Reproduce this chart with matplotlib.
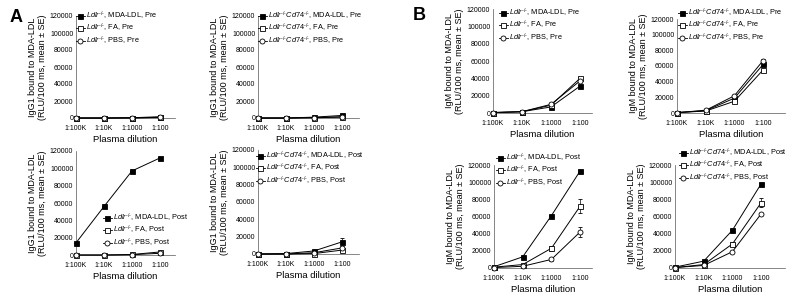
import matplotlib
matplotlib.use("Agg")
import matplotlib.pyplot as plt
from matplotlib.lines import Line2D
from matplotlib.transforms import ScaledTranslation

plt.rcParams['font.family'] = ['Liberation Sans', 'DejaVu Sans']
plt.rcParams['mathtext.fontset'] = 'custom'
plt.rcParams['mathtext.rm'] = 'Liberation Sans'
plt.rcParams['mathtext.it'] = 'Liberation Sans:italic'

dilutions = ['1:100K', '1:10K', '1:1000', '1:100']
yticks = [0, 20000, 40000, 60000, 80000, 100000, 120000]

# IgG1
igg1_ldlr_pre_mda = [0, 0, 300, 1500]
igg1_ldlr_pre_fa = [0, 0, 200, 800]
igg1_ldlr_pre_pbs = [0, 0, 100, 600]
igg1_cd74_pre_mda = [0, 0, 1000, 3000]
igg1_cd74_pre_fa = [0, 0, 500, 1500]
igg1_cd74_pre_pbs = [0, 0, 300, 1000]
igg1_ldlr_post_mda = [14000, 56000, 97000, 112000]
igg1_ldlr_post_fa = [0, 0, 600, 3500]
igg1_ldlr_post_pbs = [0, 0, 300, 2000]
igg1_cd74_post_mda = [0, 500, 3500, 14000]
igg1_cd74_post_fa = [0, 0, 500, 4500]
igg1_cd74_post_pbs = [0, 0, 1500, 7000]
# IgM
igm_ldlr_pre_mda = [500, 1500, 7000, 31000]
igm_ldlr_pre_fa = [500, 1500, 9000, 40000]
igm_ldlr_pre_pbs = [500, 1500, 10000, 37000]
igm_cd74_pre_mda = [500, 3000, 19000, 62000]
igm_cd74_pre_fa = [500, 2500, 15000, 55000]
igm_cd74_pre_pbs = [500, 3500, 22000, 67000]
igm_ldlr_post_mda = [1500, 13000, 61000, 113000]
igm_ldlr_post_fa = [1000, 4000, 23000, 72000]
igm_ldlr_post_pbs = [500, 2000, 10000, 42000]
igm_cd74_post_mda = [1000, 8000, 44000, 98000]
igm_cd74_post_fa = [500, 4000, 28000, 76000]
igm_cd74_post_pbs = [500, 3000, 19000, 63000]

# standard errors (only visible ones)
se_small = [300, 300, 500, 1500]
igg1_cd74_post_mda_se = [200, 300, 1500, 5000]
igm_ldlr_post_fa_se = [500, 1000, 3000, 8000]
igm_ldlr_post_pbs_se = [300, 500, 1500, 6000]
igm_cd74_post_fa_se = [300, 800, 2500, 5000]

W, H = 800, 299
fig = plt.figure(figsize=(W / 100, H / 100), dpi=100)


def add_panel(x0, y0, ytop, unit, xend, ylabel, series, geno, stage, leg_xy):
    ax = fig.add_axes([x0 / W, 1 - y0 / H, (xend - x0) / W, (y0 - ytop) / H])
    ax.set_xlim(0, (xend - x0) / unit)
    ax.set_ylim(0, 120000)
    styles = [('s', 'black'), ('s', 'white'), ('o', 'white')]
    names = ['MDA-LDL', 'FA', 'PBS']
    x = list(range(len(dilutions)))
    handles, labels = [], []
    for (vals, err), (m, fc), nm in zip(series, styles, names):
        ax.errorbar(x, vals, yerr=err, color='black', lw=0.7, elinewidth=0.5,
                    capsize=1.2, capthick=0.5, marker=m, ms=3.6, mfc=fc,
                    mec='black', mew=0.6, clip_on=False, zorder=3)
        handles.append(Line2D([], [], color='black', lw=0.6, marker=m, ms=3.6,
                              mfc=fc, mec='black', mew=0.6))
        labels.append(r'$\it{%s}$, %s, %s' % (geno, nm, stage))
    for s in ['top', 'right']:
        ax.spines[s].set_visible(False)
    for s in ['left', 'bottom']:
        ax.spines[s].set_linewidth(0.5)
        ax.spines[s].set_color('#555555')
    ax.set_xticks(x)
    ax.set_xticklabels(dilutions, fontsize=5)
    off = ScaledTranslation(3 / 100, 0, fig.dpi_scale_trans)
    for t in ax.get_xticklabels():
        t.set_transform(t.get_transform() + off)
    ax.set_yticks(yticks)
    ax.set_yticklabels([str(v) for v in yticks], fontsize=5)
    ax.tick_params(length=0, pad=2)
    ax.tick_params(axis='x', pad=5)
    ax.set_xlabel('Plasma dilution', fontsize=6.8, labelpad=2)
    ax.set_ylabel(ylabel + ' bound to MDA-LDL\n(RLU/100 ms, mean \u00b1 SE)',
                  fontsize=6.5, labelpad=2, linespacing=1.1)
    ax.legend(handles, labels, loc='upper left',
              bbox_to_anchor=(leg_xy[0] / W, 1 - leg_xy[1] / H),
              bbox_transform=fig.transFigure, frameon=False, fontsize=5.3,
              handlelength=1.2, handletextpad=0.2, labelspacing=0.0,
              borderpad=0, borderaxespad=0)
    return ax


L = 'Ldlr^{\u2010/\u2010}'
C = 'Ldlr^{\u2010/\u2010}Cd74^{\u2010/\u2010}'

add_panel(76, 118, 16, 28, 175, 'IgG1',
          [(igg1_ldlr_pre_mda, se_small), (igg1_ldlr_pre_fa, None), (igg1_ldlr_pre_pbs, None)],
          L, 'Pre', (76, 10))
add_panel(258, 118, 16, 28, 359, 'IgG1',
          [(igg1_cd74_pre_mda, se_small), (igg1_cd74_pre_fa, None), (igg1_cd74_pre_pbs, None)],
          C, 'Pre', (258, 10))
add_panel(76, 255, 151, 28, 175, 'IgG1',
          [(igg1_ldlr_post_mda, se_small), (igg1_ldlr_post_fa, se_small), (igg1_ldlr_post_pbs, None)],
          L, 'Post', (103, 212))
add_panel(258, 254, 150, 28, 359, 'IgG1',
          [(igg1_cd74_post_mda, igg1_cd74_post_mda_se), (igg1_cd74_post_fa, se_small), (igg1_cd74_post_pbs, se_small)],
          C, 'Post', (256, 150))
add_panel(493, 113, 9, 29, 592, 'IgM',
          [(igm_ldlr_pre_mda, se_small), (igm_ldlr_pre_fa, se_small), (igm_ldlr_pre_pbs, se_small)],
          L, 'Pre', (499, 7))
add_panel(677, 113, 19, 28.7, 785, 'IgM',
          [(igm_cd74_pre_mda, se_small), (igm_cd74_pre_fa, se_small), (igm_cd74_pre_pbs, se_small)],
          C, 'Pre', (678, 7))
add_panel(494, 268, 165, 28.7, 592, 'IgM',
          [(igm_ldlr_post_mda, se_small), (igm_ldlr_post_fa, igm_ldlr_post_fa_se), (igm_ldlr_post_pbs, igm_ldlr_post_pbs_se)],
          L, 'Post', (496, 152))
add_panel(675, 268, 165, 28.7, 785, 'IgM',
          [(igm_cd74_post_mda, se_small), (igm_cd74_post_fa, igm_cd74_post_fa_se), (igm_cd74_post_pbs, se_small)],
          C, 'Post', (679, 147))

fig.text(10 / W, 1 - 18 / H, 'A', fontsize=13, fontweight='bold', va='center', ha='left')
fig.text(413 / W, 1 - 16 / H, 'B', fontsize=13, fontweight='bold', va='center', ha='left')

fig.savefig('out.png', dpi=100)
